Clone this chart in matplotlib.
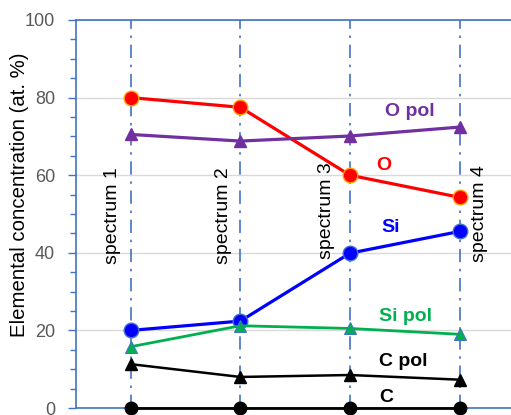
import matplotlib.pyplot as plt

plt.rcParams['font.family'] = ['Liberation Sans', 'DejaVu Sans']

# Dati: concentrazione elementale per spettro
spettri = ['spectrum 1', 'spectrum 2', 'spectrum 3', 'spectrum 4']
O = [80.0, 77.5, 60.0, 54.3]
O_pol = [70.5, 68.8, 70.1, 72.4]
Si = [20.0, 22.4, 39.9, 45.5]
Si_pol = [15.8, 21.2, 20.5, 19.0]
C_pol = [11.3, 8.0, 8.5, 7.3]
C = [0.0, 0.0, 0.0, 0.0]

x = [1, 2, 3, 4]
blu_assi = '#4472C4'

fig = plt.figure(figsize=(5.11, 4.15), dpi=100)
ax = fig.add_axes([76 / 511, 7 / 415, 435 / 511, 388 / 415])

# Linee verticali tratto-punto sugli spettri
for xi in x:
    ax.axvline(xi, color=blu_assi, lw=1.2, ls=(0, (8, 4, 1.5, 4)), zorder=1)

# Serie
ax.plot(x, O, color='#FF0000', lw=2.3, marker='o', ms=10.5,
        mfc='#FF0000', mec='#FFA000', mew=1, zorder=4)
ax.plot(x, O_pol, color='#7030A0', lw=2.3, marker='^', ms=9,
        mfc='#7030A0', mec='#7030A0', zorder=4)
ax.plot(x, Si, color='#0000FF', lw=2.3, marker='o', ms=10.5,
        mfc='#0000FF', mec='#4472C4', mew=1, zorder=4)
ax.plot(x, Si_pol, color='#00B050', lw=2.0, marker='^', ms=9,
        mfc='#00B050', mec='#4472C4', mew=0.8, zorder=4)
ax.plot(x, C_pol, color='black', lw=1.8, marker='^', ms=8,
        mfc='black', mec='black', zorder=4)
ax.plot(x, C, color='black', lw=2.0, marker='o', ms=9,
        mfc='black', mec='black', zorder=5, clip_on=False)

# Etichette delle serie
etichette = [('O pol', '#7030A0', 3.548, 76.3),
             ('O', '#FF0000', 3.311, 62.4),
             ('Si', '#0000FF', 3.375, 46.4),
             ('Si pol', '#00B050', 3.503, 23.7),
             ('C pol', 'black', 3.484, 11.9),
             ('C', 'black', 3.329, 2.6)]
for testo, colore, xt, yt in etichette:
    ax.text(xt, yt, testo, color=colore, fontsize=14, fontweight='bold',
            ha='center', va='center')

# Nomi degli spettri ruotati
pos_testo = [(0.829, 49.5), (1.842, 49.5), (2.79, 50.8), (4.187, 50.0)]
for nome, (xt, yt) in zip(spettri, pos_testo):
    ax.text(xt, yt, nome, rotation=90, fontsize=14, ha='center', va='center')

ax.set_xlim(0.5, 4.47)
ax.set_ylim(0, 100)
ax.set_yticks([0, 20, 40, 60, 80, 100])
ax.set_yticks(range(0, 101, 5), minor=True)
ax.set_xticks([])
ax.tick_params(axis='y', which='major', length=6, color=blu_assi, labelsize=13,
               labelcolor='#595959', direction='out', width=1, pad=9)
ax.tick_params(axis='y', which='minor', length=4, color=blu_assi, width=1)
ax.grid(axis='y', which='major', color='#D9D9D9', lw=1, zorder=0)
ax.set_axisbelow(True)

for lato in ['left', 'top', 'bottom']:
    ax.spines[lato].set_color(blu_assi)
    ax.spines[lato].set_linewidth(1.2)
ax.spines['right'].set_visible(False)

ax.set_ylabel('Elemental concentration (at. %)', fontsize=14.7, va='center')
ax.yaxis.set_label_coords(-0.131, 0.55)

plt.savefig('out.png', dpi=100)
